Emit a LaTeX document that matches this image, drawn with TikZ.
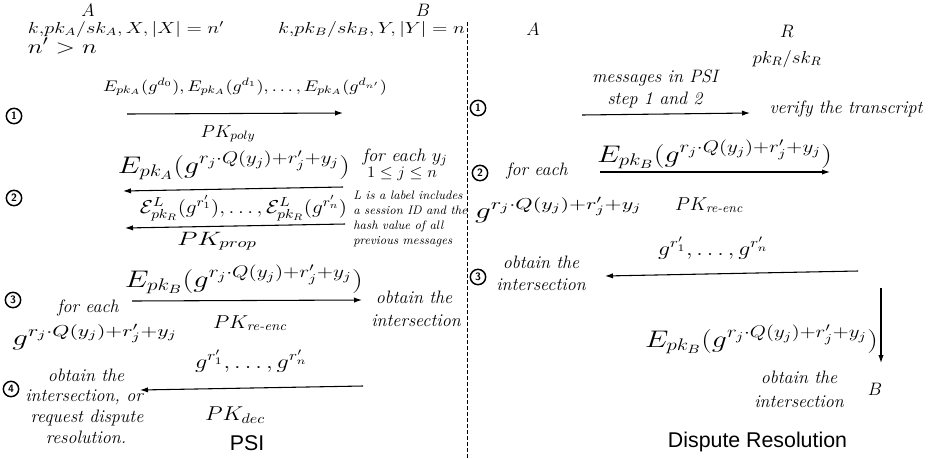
\RequirePackage{fix-cm}
\documentclass[tikz,border=0pt]{standalone}
\usepackage{amsmath}
\usepackage{fontspec}
\newfontfamily\helv{Liberation Sans}
\usetikzlibrary{arrows.meta}
\newlength\pxu \setlength\pxu{0.75pt}
\newcommand{\fw}[2]{\resizebox{#1\pxu}{\height}{#2}}
\newcommand{\fs}[1]{\fontsize{#1}{#1}\selectfont}
\newcommand{\gexp}{g^{r_j\cdot Q(y_j)+r'_j+y_j}}
\begin{document}
\begin{tikzpicture}[x=0.75pt,y=-0.75pt,
  txt/.style={inner sep=0pt, outer sep=0pt, anchor=base},
  lab/.style={txt, font=\itshape\fs{13.5}},
  arr/.style={-{Latex[length=6pt,width=4pt]}, line width=0.8pt},
  num/.style={circle, draw, line width=1.1pt, inner sep=0pt, minimum size=11.5pt,
    font=\sffamily\bfseries\fontsize{8}{8}\selectfont},
  sep/.style={line width=0.6pt, dash pattern=on 3pt off 1.5pt}]
\useasboundingbox (0,0) rectangle (934,458);
% separator
\coordinate (d1) at (467,22);
\coordinate (d2) at (467,458);
\draw[sep] (d1) -- (d2);
% ---------------- PSI (left) ----------------
\node[txt] (A1) at (88,16) {\fs{13.5}$A$};
\node[txt] (B1) at (423,16) {\fs{13.5}$B$};
\node[txt] (kA) at (126,33) {\fw{196}{\fs{12}$k{,}pk_A/sk_A,X,|X|=n'$}};
\node[txt] (kB) at (371.5,33) {\fw{187}{\fs{12}$k{,}pk_B/sk_B,Y,|Y|=n$}};
\node[txt] (nn) at (62.5,53) {\fw{69}{\fs{15}$n'>n$}};
\node[txt] (m1) at (245,91) {\fw{284}{\fs{11.5}$E_{pk_A}(g^{d_0}),E_{pk_A}(g^{d_1}),\ldots,E_{pk_A}(g^{d_{n'}})$}};
\node[num] (c1) at (14,116) {1};
\coordinate (a1s) at (127,114);
\coordinate (a1e) at (343,113);
\draw[arr] (a1s) -- (a1e);
\node[txt] (pkpoly) at (228,137) {\fw{55}{\fs{13}$PK_{poly}$}};
\node[txt] (fe1) at (405,161) {\fw{85}{\fs{13.5}\itshape for each $y_j$}};
\node[txt] (jn) at (402,177) {\fw{70}{\fs{12}$1\le j\le n$}};
\node[txt] (e2) at (234,173) {\fw{232}{\fs{18}$E_{pk_A}(\gexp)$}};
\node[num] (c2) at (14,198) {2};
\coordinate (a2s) at (343,187);
\coordinate (a2e) at (123,191);
\draw[arr] (a2s) -- (a2e);
\node[txt] (calE) at (243.5,213) {\fw{207}{\fs{14}$\mathcal{E}^L_{pk_R}(g^{r'_1}),\ldots,\mathcal{E}^L_{pk_R}(g^{r'_n})$}};
\coordinate (a3s) at (345,224);
\coordinate (a3e) at (125,228);
\draw[arr] (a3s) -- (a3e);
\node[txt] (pkprop) at (217,245) {\fw{80}{\fs{14.5}$PK_{prop}$}};
\node[inner sep=0pt, anchor=north west, align=left, font=\itshape\fontsize{9.2}{11.25}\selectfont] (Lnote) at (353,191)
  {L is a label includes\\a session ID and the\\hash value of all\\previous messages};
% step 3
\node[num] (c3) at (13,300) {3};
\node[lab] (fe2) at (88,312) {for each};
\node[txt] (e3) at (244,287) {\fw{238}{\fs{18}$E_{pk_B}(\gexp)$}};
\coordinate (a4s) at (132,301);
\coordinate (a4e) at (362,300);
\draw[arr] (a4s) -- (a4e);
\node[lab] (ob1a) at (414,303) {obtain the};
\node[lab] (ob1b) at (416,326) {intersection};
\node[txt] (pkre1) at (250,328) {\fw{74}{\fs{14}$PK_{\textit{re-enc}}$}};
\node[txt] (gq1) at (95,345) {\fw{165}{\fs{17}$\gexp$}};
\node[txt] (gr1) at (251,368) {\fw{112}{\fs{15}$g^{r'_1},\ldots,g^{r'_n}$}};
% step 4
\node[lab] (ob2a) at (86,381) {obtain the};
\node[lab] (ob2b) at (84,401) {intersection, or};
\node[lab] (ob2c) at (87,422) {request dispute};
\node[lab] (ob2d) at (86,443) {resolution.};
\node[num, fill=white] (c4) at (11,389) {4};
\coordinate (a5s) at (363,386);
\coordinate (a5e) at (140,390);
\draw[arr] (a5s) -- (a5e);
\node[txt] (pkdec) at (235,420) {\fw{60}{\fs{15}$PK_{dec}$}};
\node[txt, font=\helv\fs{16}] (psi) at (247,450) {PSI};
% ---------------- Dispute Resolution (right) ----------------
\node[txt] (A2) at (533,35) {\fs{13.5}$A$};
\node[txt] (R) at (787,37) {\fs{13.5}$R$};
\node[txt] (pkR) at (787,63) {\fw{69}{\fs{13}$pk_R/sk_R$}};
\node[lab] (msg1) at (655,82) {messages in PSI};
\node[lab] (msg2) at (655,104) {step 1 and 2};
\node[num] (r1) at (478,108) {1};
\coordinate (b1s) at (582,115);
\coordinate (b1e) at (750,113);
\draw[arr] (b1s) -- (b1e);
\node[lab] (ver) at (846,113) {verify the transcript};
\node[txt] (e4) at (714.5,162) {\fw{235}{\fs{18}$E_{pk_B}(\gexp)$}};
\coordinate (b2s) at (600,172);
\coordinate (b2e) at (830,172);
\draw[arr] (b2s) -- (b2e);
\node[num] (r2) at (480,173) {2};
\node[lab] (fe3) at (537,175) {for each};
\node[txt] (gq2) at (558.5,218) {\fw{167}{\fs{17}$\gexp$}};
\node[txt] (pkre2) at (709,210) {\fw{68}{\fs{14}$PK_{\textit{re-enc}}$}};
\node[txt] (gr2) at (713,255) {\fw{110}{\fs{15}$g^{r'_1},\ldots,g^{r'_n}$}};
\node[lab] (ob3a) at (541,268) {obtain the};
\node[lab] (ob3b) at (541,290) {intersection};
\node[num] (r3) at (478,277) {3};
\coordinate (b3s) at (858,271);
\coordinate (b3e) at (605,276);
\draw[arr] (b3s) -- (b3e);
\coordinate (b4s) at (881,288);
\coordinate (b4e) at (881,363);
\draw[arr] (b4s) -- (b4e);
\node[txt] (e5) at (761.5,347) {\fw{233}{\fs{18}$E_{pk_B}(\gexp)$}};
\node[lab] (ob4a) at (799,383) {obtain the};
\node[lab] (ob4b) at (799,407) {intersection};
\node[txt] (B2) at (875,395) {\fs{13.5}$B$};
\node[txt, font=\helv\fs{16}] (dr) at (757.5,447) {Dispute Resolution};
\end{tikzpicture}
\end{document}
